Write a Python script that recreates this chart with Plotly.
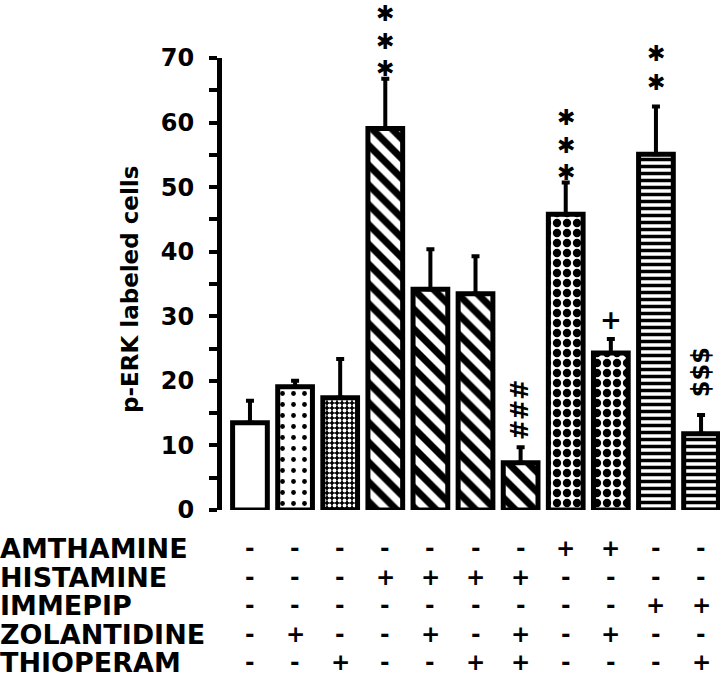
import plotly.graph_objects as go

# ---------------- data ----------------
groups = list(range(11))
values = [13.5, 19.1, 17.4, 59.1, 34.2, 33.5, 7.3, 45.8, 24.3, 55.1, 11.8]
errors = [3.4, 0.9, 6.0, 7.7, 6.2, 5.8, 2.4, 4.9, 2.2, 7.4, 2.9]

row_labels = ["AMTHAMINE", "HISTAMINE", "IMMEPIP", "ZOLANTIDINE", "THIOPERAM"]
amthamine   = ["-", "-", "-", "-", "-", "-", "-", "+", "+", "-", "-"]
histamine   = ["-", "-", "-", "+", "+", "+", "+", "-", "-", "-", "-"]
immepip     = ["-", "-", "-", "-", "-", "-", "-", "-", "-", "+", "+"]
zolantidine = ["-", "+", "-", "-", "+", "-", "+", "-", "+", "-", "-"]
thioperam   = ["-", "-", "+", "-", "-", "+", "+", "-", "-", "-", "+"]

# significance marks: (bar index, symbol, count)
sig_marks = [(3, "✱", 3), (7, "✱", 3), (9, "✱", 2), (8, "+", 1), (6, "###", 1), (10, "$$$", 1)]

y_tick_vals = [0, 5, 10, 15, 20, 25, 30, 35, 40, 45, 50, 55, 60, 65, 70]
y_tick_text = ["0", "", "10", "", "20", "", "30", "", "40", "", "50", "", "60", "", "70"]

# ---------------- styles ----------------
diag = dict(shape="\\", fgcolor="black", bgcolor="white", fgopacity=1, size=14, solidity=0.5)
checks = dict(shape=".", fgcolor="black", bgcolor="white", fgopacity=1, size=10, solidity=0.55)
hlines = dict(shape="-", fgcolor="black", bgcolor="white", fgopacity=1, size=7, solidity=0.5)
patterns = [
    dict(shape=""),
    dict(shape=".", fgcolor="black", bgcolor="white", fgopacity=1, size=11, solidity=0.15),
    dict(shape=".", fgcolor="white", bgcolor="black", fgopacity=1, size=5, solidity=0.45),
    diag, diag, diag, diag,
    checks, checks,
    hlines, hlines,
]

FONT = "DejaVu Sans, Liberation Sans, sans-serif"
W, H = 720, 687
L, R, T, B = 222, 0, 58, 177
plot_h = H - T - B

fig = go.Figure()
for i in groups:
    fig.add_trace(go.Bar(
        x=[groups[i]], y=[values[i]],
        width=0.77,
        marker=dict(color="white", line=dict(color="black", width=5), pattern=patterns[i]),
        error_y=dict(type="data", array=[errors[i]], arrayminus=[0], symmetric=False,
                     color="black", thickness=4, width=4),
        showlegend=False,
    ))

annotations = []
# significance marks above error bars
for idx, sym, count in sig_marks:
    top = values[idx] + errors[idx]
    if sym == "✱":
        offsets = [11, 38, 66] if count == 3 else [25, 54]
        for k in range(count):
            annotations.append(dict(x=idx, y=top, xref="x", yref="y", text="<b>" + sym + "</b>",
                                    showarrow=False, yshift=offsets[k] - 1,
                                    font=dict(family=FONT, size=22, color="black")))
    elif sym == "+":
        annotations.append(dict(x=idx, y=top, xref="x", yref="y", text="<b>+</b>",
                                showarrow=False, yshift=19,
                                font=dict(family=FONT, size=26, color="black")))
    else:
        off = 37 if sym == "###" else 43
        annotations.append(dict(x=idx, y=top, xref="x", yref="y", text="<b>" + sym + "</b>",
                                showarrow=False, yshift=off, textangle=-90,
                                font=dict(family=FONT, size=24, color="black")))

# treatment table
row_px = [548, 577, 605, 634, 662]
rows = [amthamine, histamine, immepip, zolantidine, thioperam]
for r, (label, signs) in enumerate(zip(row_labels, rows)):
    yp = (H - B - row_px[r]) / plot_h
    annotations.append(dict(x=-(L + 2) / (W - L - R), y=yp, xref="paper", yref="paper",
                            xanchor="left", yanchor="middle", text="<b>" + label + "</b>",
                            showarrow=False,
                            font=dict(family=FONT, size=27, color="black")))
    for i, s in enumerate(signs):
        annotations.append(dict(x=groups[i], y=yp, xref="x", yref="paper",
                                xanchor="center", yanchor="middle", text="<b>" + s + "</b>",
                                showarrow=False,
                                font=dict(family=FONT, size=23, color="black")))

# y-axis title
annotations.append(dict(x=-92 / (W - L - R), y=(H - B - 290) / plot_h, xref="paper", yref="paper",
                        xanchor="center", text="<b>p-ERK labeled cells</b>", textangle=-90,
                        showarrow=False, font=dict(family=FONT, size=23, color="black")))

fig.update_layout(
    width=W, height=H,
    margin=dict(l=L, r=R, t=T, b=B, pad=0),
    paper_bgcolor="white", plot_bgcolor="white",
    bargap=0.2,
    xaxis=dict(range=[-0.62, 10.42], showline=False, showticklabels=False, ticks="",
               showgrid=False, zeroline=False),
    yaxis=dict(range=[0, 70], showline=True, linecolor="black", linewidth=5,
               ticks="outside", ticklen=8, tickwidth=4, tickcolor="black",
               tickvals=y_tick_vals, ticktext=y_tick_text, ticklabelstandoff=10,
               tickfont=dict(family=FONT, size=24, color="black", weight="bold"),
               showgrid=False, zeroline=False),
    annotations=annotations,
)

fig.write_html("out.html", config={"displayModeBar": False},
               post_script="document.body.style.margin='0px';")
